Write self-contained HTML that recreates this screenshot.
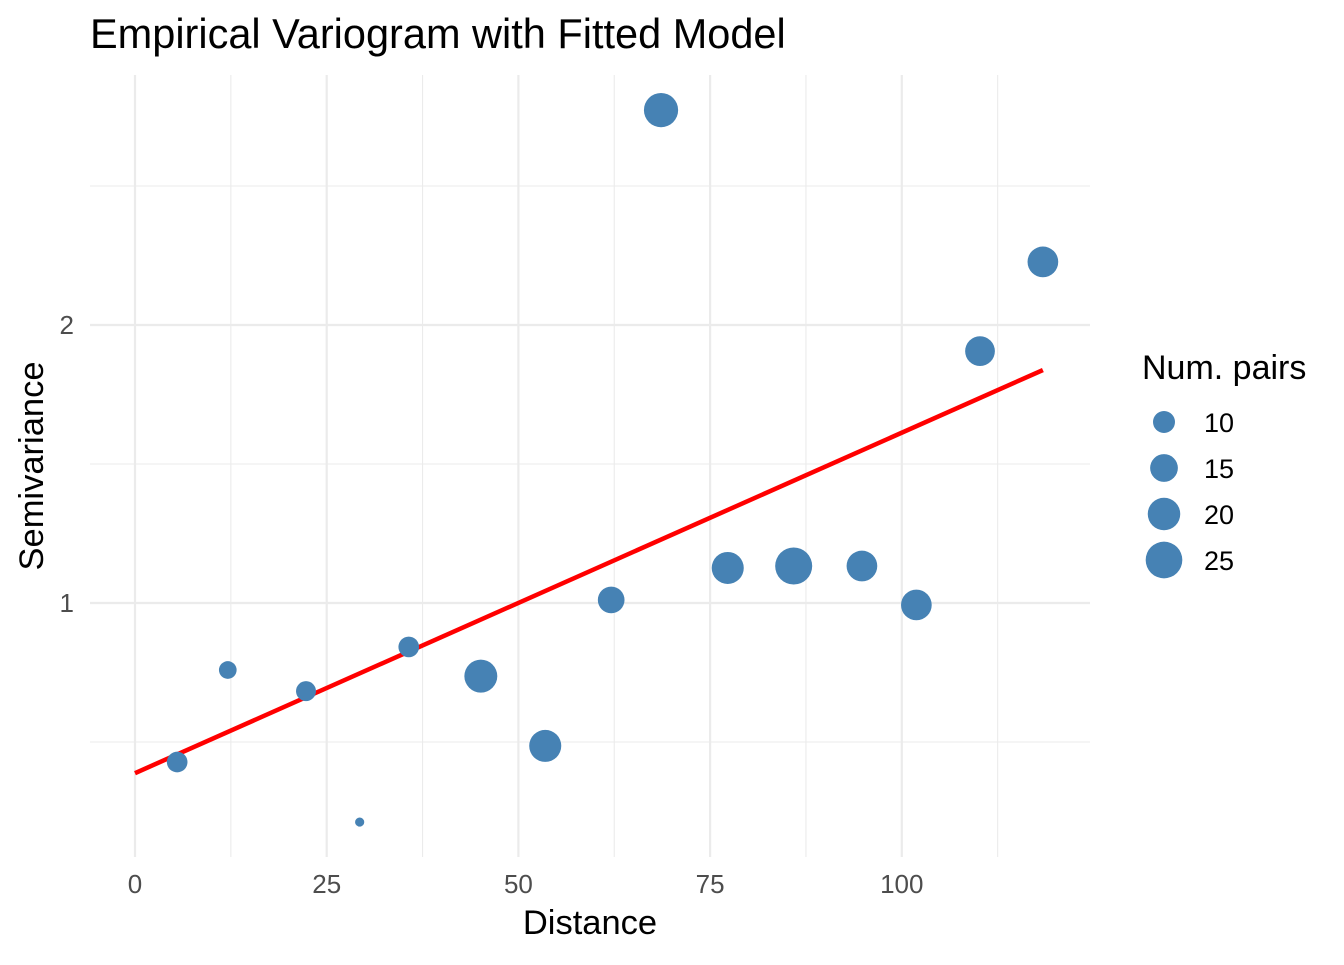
<!DOCTYPE html>
<html><head><meta charset="utf-8"><style>
body{margin:0;background:#fff;}
svg text{font-family:"Liberation Sans",sans-serif;}
</style></head><body>
<svg id="chart" width="1344" height="960">
<rect width="1344" height="960" fill="#fff"/>
<g id="grid"></g>
<g id="line"></g>
<g id="pts"></g>
<g id="axes"></g>
<text x="90" y="48" font-size="41.5" fill="#000">Empirical Variogram with Fitted Model</text>
<text x="590" y="934" font-size="34.5" text-anchor="middle" fill="#000">Distance</text>
<text transform="translate(43,466) rotate(-90)" font-size="34.5" text-anchor="middle" fill="#000">Semivariance</text>
<g id="legend">
<text x="1142" y="379" font-size="34" fill="#000">Num. pairs</text>
</g>
</svg>
<script>
const distances=[5.5,12.1,22.3,29.3,35.7,45.1,53.5,62.1,68.6,77.3,85.9,94.8,101.9,110.2,118.4];
const gammas=[0.428,0.759,0.683,0.212,0.842,0.737,0.486,1.011,2.773,1.126,1.133,1.133,0.993,1.906,2.227];
const npairs=[9,7,8.5,3,9,20.5,19.5,14,22,19.5,25.5,18,18,17,18];
const fitX=[0,118.4];
const fitY=[0.388,1.838];
const xTicks=[0,25,50,75,100];
const yTicks=[1,2];
const legendVals=[10,15,20,25];
const NS="http://www.w3.org/2000/svg";
const sx=v=>135+v*7.668;
const sy=v=>603-(v-1)*278;
const rr=n=>Math.sqrt(Math.max(14.3*n-22,4));
function mk(p,t,a){const e=document.createElementNS(NS,t);for(const k in a)e.setAttribute(k,a[k]);p.appendChild(e);return e;}
const grid=document.getElementById('grid');
for(let v=0;v<=112.5;v+=12.5){const major=v%25===0;
const l=mk(grid,'line',{x1:sx(v),x2:sx(v),y1:75,y2:857,stroke:'#ebebeb','stroke-width':major?2.2:1.1});

}
for(let v=0.5;v<=2.5;v+=0.5){const major=v%1===0;
const l=mk(grid,'line',{x1:90,x2:1090,y1:sy(v),y2:sy(v),stroke:'#ebebeb','stroke-width':major?2.2:1.1});

}
const axes=document.getElementById('axes');
xTicks.forEach(v=>{const t=mk(axes,'text',{x:sx(v),y:893,'font-size':26,'text-anchor':'middle',fill:'#4d4d4d'});t.textContent=v;

});
yTicks.forEach(v=>{const t=mk(axes,'text',{x:74,y:sy(v)+9,'font-size':26,'text-anchor':'end',fill:'#4d4d4d'});t.textContent=v;

});
const ln=mk(document.getElementById('line'),'line',{x1:sx(fitX[0]),y1:sy(fitY[0]),x2:sx(fitX[1]),y2:sy(fitY[1]),stroke:'#ff0000','stroke-width':4.5});


const pts=document.getElementById('pts');
distances.forEach((d,i)=>{const c=mk(pts,'circle',{cx:sx(d),cy:sy(gammas[i]),r:rr(npairs[i]),fill:'#4682b4'});

});
const lg=document.getElementById('legend');
legendVals.forEach((v,i)=>{const y=422+i*46;
const c=mk(lg,'circle',{cx:1164,cy:y,r:rr(v),fill:'#4682b4'});


const t=mk(lg,'text',{x:1204,y:y+10,'font-size':27,fill:'#000'});t.textContent=v;

});
</script>
</body></html>
